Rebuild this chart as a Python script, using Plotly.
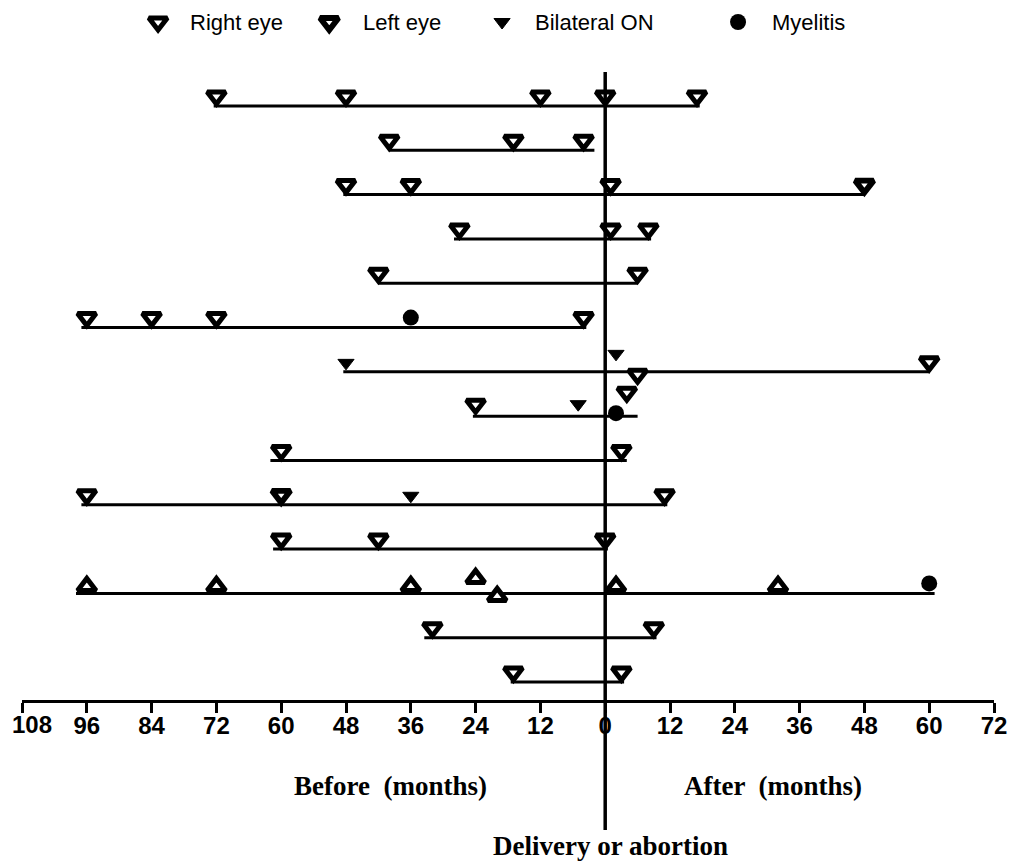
import plotly.graph_objects as go

# months relative to delivery/abortion (negative = before)
rows = list(range(1, 15))
line_start = [-72.5, -40, -48.5, -28, -42, -97, -48.5, -24.5, -62, -97, -61.5, -98, -33.5, -17.5]
line_end = [17.5, -2, 48, 8.5, 6, -3.5, 60, 6, 4, 11.5, 0.5, 61, 9.5, 3.5]

right_eye_row = [1, 1, 1, 1, 1, 2, 2, 2, 3, 3, 3, 4, 4, 4, 5, 5, 6, 6, 6, 6, 7, 8, 8, 8, 9, 9, 10, 10, 11, 11, 11, 13, 13, 14, 14]
right_eye_month = [-72, -48, -12, 0, 17, -40, -17, -4, -48, -36, 1, -27, 1, 8, -42, 6, -96, -84, -72, -4, 60, -24, 4, 6, -60, 3, -96, 11, -60, -42, 0, -32, 9, -17, 3]

left_eye_row = [3, 10]
left_eye_month = [48, -60]

bilateral_row = [7, 7, 8, 10]
bilateral_month = [-48, 2, -5, -36]

myelitis_row = [6, 8, 12]
myelitis_month = [-36, 2, 60]

# row 12 was drawn with upward triangles
up_row = [12, 12, 12, 12, 12, 12, 12]
up_month = [-96, -72, -36, -24, -20, 2, 32]

tick_vals = list(range(-108, 73, 12))
tick_text = [str(abs(v)) for v in tick_vals]

# ---- layout constants, in screen pixels (page body adds an 8px offset) ----
PAGE_OFF = 8
W, H = 1021 - PAGE_OFF, 868 - PAGE_OFF
FIG_TOP = 12            # top of the paper area
PLOT_TOP, PLOT_BOTTOM = 60, 700
ROW1_PX, ROW_PX = 106, 44.31
y_top = 1 + (PLOT_TOP - ROW1_PX) / ROW_PX
y_bot = 1 + (PLOT_BOTTOM - ROW1_PX) / ROW_PX
paper_h = PLOT_BOTTOM - FIG_TOP
main_top = (PLOT_BOTTOM - PLOT_TOP) / paper_h


def paper_y(py):
    return (PLOT_BOTTOM - py) / paper_h


def lift(rs, ms, base, nudges):
    return [r - (nudges.get((r, m), base)) / ROW_PX for r, m in zip(rs, ms)]


# vertical nudges for stacked markers (px above the row line)
tri_nudge = {(7, 2): 18, (8, -24): 12, (8, -5): 12, (8, 4): 24, (8, 6): 42}
circ_nudge = {(8, 2): 3}
up_nudge = {(12, -24): 15, (12, -20): -3}

TRI = dict(symbol="triangle-down", size=16, color="white", line=dict(color="black", width=5))
TRI_L = dict(symbol="triangle-down", size=16, color="white", line=dict(color="black", width=5.8))
BIL = dict(symbol="triangle-down", size=14, color="black", line=dict(color="black", width=1))
CIR = dict(symbol="circle", size=16, color="black")
UP = dict(symbol="triangle-up", size=16, color="white", line=dict(color="black", width=5))

tick_font = dict(family="Liberation Sans Narrow, Arial Narrow, Liberation Sans",
                 size=24, color="black", weight="bold")

fig = go.Figure()

lx, ly = [], []
for r, s, e in zip(rows, line_start, line_end):
    lx += [s, e, None]
    ly += [r, r, None]
fig.add_trace(go.Scatter(x=lx, y=ly, mode="lines", line=dict(color="black", width=3), hoverinfo="skip"))

fig.add_trace(go.Scatter(x=right_eye_month, y=lift(right_eye_row, right_eye_month, 10, tri_nudge),
                         mode="markers", marker=TRI, cliponaxis=False))
fig.add_trace(go.Scatter(x=left_eye_month, y=lift(left_eye_row, left_eye_month, 10, tri_nudge),
                         mode="markers", marker=TRI_L, cliponaxis=False))
fig.add_trace(go.Scatter(x=bilateral_month, y=lift(bilateral_row, bilateral_month, 9, tri_nudge),
                         mode="markers", marker=BIL, cliponaxis=False))
fig.add_trace(go.Scatter(x=myelitis_month, y=lift(myelitis_row, myelitis_month, 10, circ_nudge),
                         mode="markers", marker=CIR, cliponaxis=False))
fig.add_trace(go.Scatter(x=up_month, y=lift(up_row, up_month, 7, up_nudge),
                         mode="markers", marker=UP, cliponaxis=False))

# hand-made legend across the top, on its own axis pair
leg_y = (PLOT_TOP - 22) / (PLOT_TOP - FIG_TOP)
leg_marker_x = [-82.8, -51.1, -19.1, 24.6]
leg_text_x = [-77.3, -45.3, -13.3, 30.6]
leg_names = ["Right eye", "Left eye", "Bilateral ON", "Myelitis"]
leg_styles = [TRI, TRI_L, BIL, CIR]
for mx, tx, name, st in zip(leg_marker_x, leg_text_x, leg_names, leg_styles):
    fig.add_trace(go.Scatter(x=[mx], y=[leg_y], mode="markers", marker=st,
                             xaxis="x2", yaxis="y2", cliponaxis=False))
    fig.add_annotation(x=tx, y=leg_y, xref="x2", yref="y2", text=name, showarrow=False,
                       xanchor="left", yanchor="middle",
                       font=dict(family="Liberation Sans, Arial", size=22, color="black"))

# the first tick label sits at the page edge: draw it as an annotation kept inside
fig.add_annotation(x=tick_vals[0], y=paper_y(724), xref="x", yref="paper", text=tick_text[0],
                   showarrow=False, xanchor="left", yanchor="middle", xshift=-12, font=tick_font)
tick_text[0] = ""

# delivery line
fig.add_shape(type="line", xref="x", yref="paper", x0=0, x1=0,
              y0=paper_y(830), y1=paper_y(72), line=dict(color="black", width=3.5))

serif = dict(family="Liberation Serif, Times New Roman", size=27, color="black", weight="bold")
for tx, ty, txt in [(-39.8, 786, "Before  (months)"), (31.1, 786, "After  (months)"),
                    (0.9, 846, "Delivery or abortion")]:
    fig.add_annotation(x=tx, y=paper_y(ty), xref="x", yref="paper", text=txt,
                       showarrow=False, xanchor="center", yanchor="middle", font=serif)

fig.update_layout(
    width=W, height=H,
    margin=dict(l=22 - PAGE_OFF, r=W - (994 - PAGE_OFF), t=FIG_TOP - PAGE_OFF, b=H - (PLOT_BOTTOM - PAGE_OFF)),
    plot_bgcolor="white", paper_bgcolor="white",
    showlegend=False,
    xaxis=dict(range=[-108, 72], tickvals=tick_vals, ticktext=tick_text,
               showline=True, linecolor="black", linewidth=3,
               ticks="outside", ticklen=10, tickwidth=3, tickcolor="black",
               ticklabelstandoff=-8,
               showgrid=False, zeroline=False, automargin=False, ticklabeloverflow="allow",
               tickfont=tick_font),
    yaxis=dict(domain=[0, main_top], range=[y_bot, y_top], visible=False,
               showgrid=False, zeroline=False, automargin=False),
    xaxis2=dict(range=[-108, 72], overlaying="x", anchor="y2", visible=False),
    yaxis2=dict(domain=[main_top, 1], range=[0, 1], anchor="x2", visible=False),
)

fig.write_html("out.html")
